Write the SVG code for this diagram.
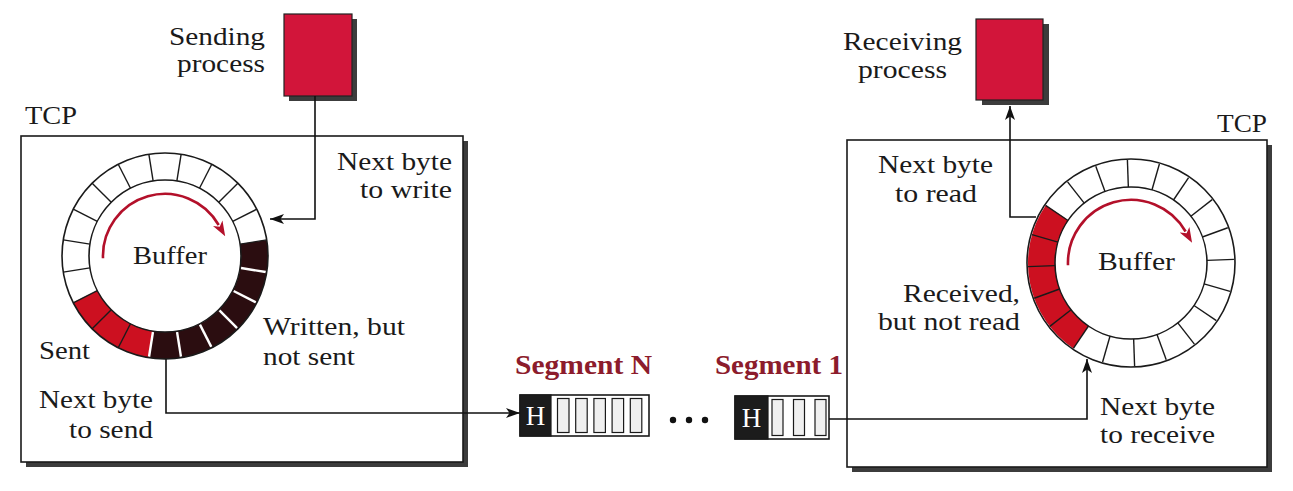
<svg xmlns="http://www.w3.org/2000/svg" width="1293" height="491" viewBox="0 0 1293 491">
<style>
.lbl{font-family:"Liberation Serif","Times New Roman",serif;font-size:25px;fill:#1a1a1a}
.seg{font-family:"Liberation Serif","Times New Roman",serif;font-weight:bold;font-size:27px;fill:#8c1c2c}
.hl{font-family:"Liberation Serif","Times New Roman",serif;font-size:27px;fill:#fff;text-anchor:middle}
.shadow{fill:#3c3c3c}
.box{fill:#fff;stroke:#1a1a1a;stroke-width:1.6}
.proc{fill:#d2153a;stroke:#222;stroke-width:1.2}
.ring{fill:none;stroke:#1a1a1a;stroke-width:1.6}
.rad{stroke:#1a1a1a;stroke-width:1.4}
.radw{stroke:#fff;stroke-width:2.4}
.conn{fill:none;stroke:#111;stroke-width:1.6}
.rarc{fill:none;stroke:#b3102a;stroke-width:2.6}
.cell{fill:#f0f0f0;stroke:#1a1a1a;stroke-width:1.2}
</style>
<defs>
<marker id="ah" markerUnits="userSpaceOnUse" markerWidth="14" markerHeight="10" refX="14" refY="5" orient="auto" viewBox="0 0 14 10"><path d="M0,0 L14,5 L0,10 L3.5,5 Z" fill="#111"/></marker>
<marker id="rh" markerUnits="userSpaceOnUse" markerWidth="15" markerHeight="12" refX="2" refY="6" orient="auto" viewBox="0 0 15 12"><path d="M0,0.5 L15,6 L0,11.5 L4,6 Z" fill="#b3102a"/></marker>
</defs>
<rect width="1293" height="491" fill="#fff"/>

<g id="tcp-send">
<rect class="shadow" x="26" y="141" width="442" height="326"/>
<rect class="box" x="21" y="136" width="442" height="326"/>
<text class="lbl" x="25" y="124" textLength="52" lengthAdjust="spacingAndGlyphs">TCP</text>
</g>
<g id="tcp-recv">
<rect class="shadow" x="852" y="145" width="420" height="327"/>
<rect class="box" x="847" y="140" width="420" height="327"/>
<text class="lbl" x="1217" y="132" textLength="50" lengthAdjust="spacingAndGlyphs">TCP</text>
</g>

<g id="sending-process">
<rect class="shadow" x="289" y="19" width="68" height="82"/>
<rect class="proc" x="284" y="14" width="68" height="82"/>
<text class="lbl" x="169" y="45" textLength="96" lengthAdjust="spacingAndGlyphs">Sending</text>
<text class="lbl" x="177" y="72" textLength="88" lengthAdjust="spacingAndGlyphs">process</text>
</g>
<g id="receiving-process">
<rect class="shadow" x="982" y="24" width="67" height="81"/>
<rect class="proc" x="976" y="19" width="67" height="81"/>
<text class="lbl" x="843" y="50" textLength="119" lengthAdjust="spacingAndGlyphs">Receiving</text>
<text class="lbl" x="858" y="78" textLength="89" lengthAdjust="spacingAndGlyphs">process</text>
</g>

<g id="buffer-send">
<g transform="translate(165,256)">
<circle cx="0" cy="0" r="89.5" fill="none" stroke="#2b0d10" stroke-width="27" stroke-dasharray="168.7 1000" transform="rotate(-9)"/>
<circle cx="0" cy="0" r="89.5" fill="none" stroke="#cc1020" stroke-width="27" stroke-dasharray="84.35 1000" transform="rotate(99)"/>
<g class="rad">
<line x1="0" y1="-76" x2="0" y2="-103" transform="rotate(9)"/>
<line x1="0" y1="-76" x2="0" y2="-103" transform="rotate(27)"/>
<line x1="0" y1="-76" x2="0" y2="-103" transform="rotate(45)"/>
<line x1="0" y1="-76" x2="0" y2="-103" transform="rotate(63)"/>
<line x1="0" y1="-76" x2="0" y2="-103" transform="rotate(81)"/>
<line x1="0" y1="-76" x2="0" y2="-103" transform="rotate(207)"/>
<line x1="0" y1="-76" x2="0" y2="-103" transform="rotate(225)"/>
<line x1="0" y1="-76" x2="0" y2="-103" transform="rotate(243)"/>
<line x1="0" y1="-76" x2="0" y2="-103" transform="rotate(261)"/>
<line x1="0" y1="-76" x2="0" y2="-103" transform="rotate(279)"/>
<line x1="0" y1="-76" x2="0" y2="-103" transform="rotate(297)"/>
<line x1="0" y1="-76" x2="0" y2="-103" transform="rotate(315)"/>
<line x1="0" y1="-76" x2="0" y2="-103" transform="rotate(333)"/>
<line x1="0" y1="-76" x2="0" y2="-103" transform="rotate(351)"/>
</g>
<g class="radw">
<line x1="0" y1="-77" x2="0" y2="-102" transform="rotate(99)"/>
<line x1="0" y1="-77" x2="0" y2="-102" transform="rotate(117)"/>
<line x1="0" y1="-77" x2="0" y2="-102" transform="rotate(135)"/>
<line x1="0" y1="-77" x2="0" y2="-102" transform="rotate(153)"/>
<line x1="0" y1="-77" x2="0" y2="-102" transform="rotate(171)"/>
<line x1="0" y1="-77" x2="0" y2="-102" transform="rotate(189)"/>
</g>
<circle class="ring" cx="0" cy="0" r="103"/>
<circle class="ring" cx="0" cy="0" r="76"/>
<path class="rarc" d="M-62,2.2 A62,62 0 0 1 53.7,-31" marker-end="url(#rh)"/>
</g>
<text class="lbl" x="133" y="264" textLength="74" lengthAdjust="spacingAndGlyphs">Buffer</text>
</g>

<g id="buffer-recv">
<g transform="translate(1131,263)">
<circle cx="0" cy="0" r="89.5" fill="none" stroke="#cc1020" stroke-width="27" stroke-dasharray="140.6 1000" transform="rotate(124)"/>
<g class="rad">
<line x1="0" y1="-76" x2="0" y2="-103" transform="rotate(-2)"/>
<line x1="0" y1="-76" x2="0" y2="-103" transform="rotate(16)"/>
<line x1="0" y1="-76" x2="0" y2="-103" transform="rotate(34)"/>
<line x1="0" y1="-76" x2="0" y2="-103" transform="rotate(52)"/>
<line x1="0" y1="-76" x2="0" y2="-103" transform="rotate(70)"/>
<line x1="0" y1="-76" x2="0" y2="-103" transform="rotate(88)"/>
<line x1="0" y1="-76" x2="0" y2="-103" transform="rotate(106)"/>
<line x1="0" y1="-76" x2="0" y2="-103" transform="rotate(124)"/>
<line x1="0" y1="-76" x2="0" y2="-103" transform="rotate(142)"/>
<line x1="0" y1="-76" x2="0" y2="-103" transform="rotate(160)"/>
<line x1="0" y1="-76" x2="0" y2="-103" transform="rotate(178)"/>
<line x1="0" y1="-76" x2="0" y2="-103" transform="rotate(196)"/>
<line x1="0" y1="-76" x2="0" y2="-103" transform="rotate(214)"/>
<line x1="0" y1="-76" x2="0" y2="-103" transform="rotate(232)"/>
<line x1="0" y1="-76" x2="0" y2="-103" transform="rotate(250)"/>
<line x1="0" y1="-76" x2="0" y2="-103" transform="rotate(268)"/>
<line x1="0" y1="-76" x2="0" y2="-103" transform="rotate(286)"/>
<line x1="0" y1="-76" x2="0" y2="-103" transform="rotate(304)"/>
<line x1="0" y1="-76" x2="0" y2="-103" transform="rotate(322)"/>
<line x1="0" y1="-76" x2="0" y2="-103" transform="rotate(340)"/>
</g>
<circle class="ring" cx="0" cy="0" r="104"/>
<circle class="ring" cx="0" cy="0" r="76"/>
<path class="rarc" d="M-63,2.2 A63,63 0 0 1 54.6,-31.5" marker-end="url(#rh)"/>
</g>
<text class="lbl" x="1098" y="270" textLength="77" lengthAdjust="spacingAndGlyphs">Buffer</text>
</g>

<g id="segment-n">
<text class="seg" x="515" y="374" textLength="137" lengthAdjust="spacingAndGlyphs">Segment N</text>
<rect class="box" x="520" y="395" width="129" height="41"/>
<rect x="520" y="395" width="31" height="41" fill="#1c1c1c" stroke="#1a1a1a" stroke-width="1.2"/>
<text class="hl" x="535.5" y="425">H</text>
<rect class="cell" x="557.5" y="398.5" width="11.5" height="34"/>
<rect class="cell" x="575.7" y="398.5" width="11.5" height="34"/>
<rect class="cell" x="593.9" y="398.5" width="11.5" height="34"/>
<rect class="cell" x="612.1" y="398.5" width="11.5" height="34"/>
<rect class="cell" x="630.3" y="398.5" width="11.5" height="34"/>
</g>

<g id="ellipsis">
<circle cx="673" cy="420" r="3.2" fill="#111"/>
<circle cx="689" cy="420" r="3.2" fill="#111"/>
<circle cx="705" cy="420" r="3.2" fill="#111"/>
</g>

<g id="segment-1">
<text class="seg" x="715" y="374" textLength="128" lengthAdjust="spacingAndGlyphs">Segment 1</text>
<rect class="box" x="735" y="396" width="94" height="43"/>
<rect x="735" y="396" width="33" height="43" fill="#1c1c1c" stroke="#1a1a1a" stroke-width="1.2"/>
<text class="hl" x="751.5" y="427">H</text>
<rect class="cell" x="772" y="399.5" width="11" height="36"/>
<rect class="cell" x="793.5" y="399.5" width="11" height="36"/>
<rect class="cell" x="815" y="399.5" width="11" height="36"/>
</g>

<g id="labels">
<text class="lbl" x="337" y="170" textLength="115" lengthAdjust="spacingAndGlyphs">Next byte</text>
<text class="lbl" x="360" y="198" textLength="92" lengthAdjust="spacingAndGlyphs">to write</text>
<text class="lbl" x="263" y="335" textLength="142" lengthAdjust="spacingAndGlyphs">Written, but</text>
<text class="lbl" x="263" y="365" textLength="92" lengthAdjust="spacingAndGlyphs">not sent</text>
<text class="lbl" x="39" y="359" textLength="51" lengthAdjust="spacingAndGlyphs">Sent</text>
<text class="lbl" x="39" y="408" textLength="114" lengthAdjust="spacingAndGlyphs">Next byte</text>
<text class="lbl" x="69" y="438" textLength="84" lengthAdjust="spacingAndGlyphs">to send</text>
<text class="lbl" x="878" y="173" textLength="115" lengthAdjust="spacingAndGlyphs">Next byte</text>
<text class="lbl" x="895" y="202" textLength="82" lengthAdjust="spacingAndGlyphs">to read</text>
<text class="lbl" x="903" y="302" textLength="117" lengthAdjust="spacingAndGlyphs">Received,</text>
<text class="lbl" x="878" y="330" textLength="142" lengthAdjust="spacingAndGlyphs">but not read</text>
<text class="lbl" x="1100" y="415" textLength="115" lengthAdjust="spacingAndGlyphs">Next byte</text>
<text class="lbl" x="1100" y="443" textLength="115" lengthAdjust="spacingAndGlyphs">to receive</text>
</g>

<g id="connectors">
<path class="conn" d="M315,96 V219 H270" marker-end="url(#ah)"/>
<path class="conn" d="M166,359 V413 H520" marker-end="url(#ah)"/>
<path class="conn" d="M829,419 H1087 V359" marker-end="url(#ah)"/>
<path class="conn" d="M1036,217 H1010 V106" marker-end="url(#ah)"/>
</g>
</svg>
